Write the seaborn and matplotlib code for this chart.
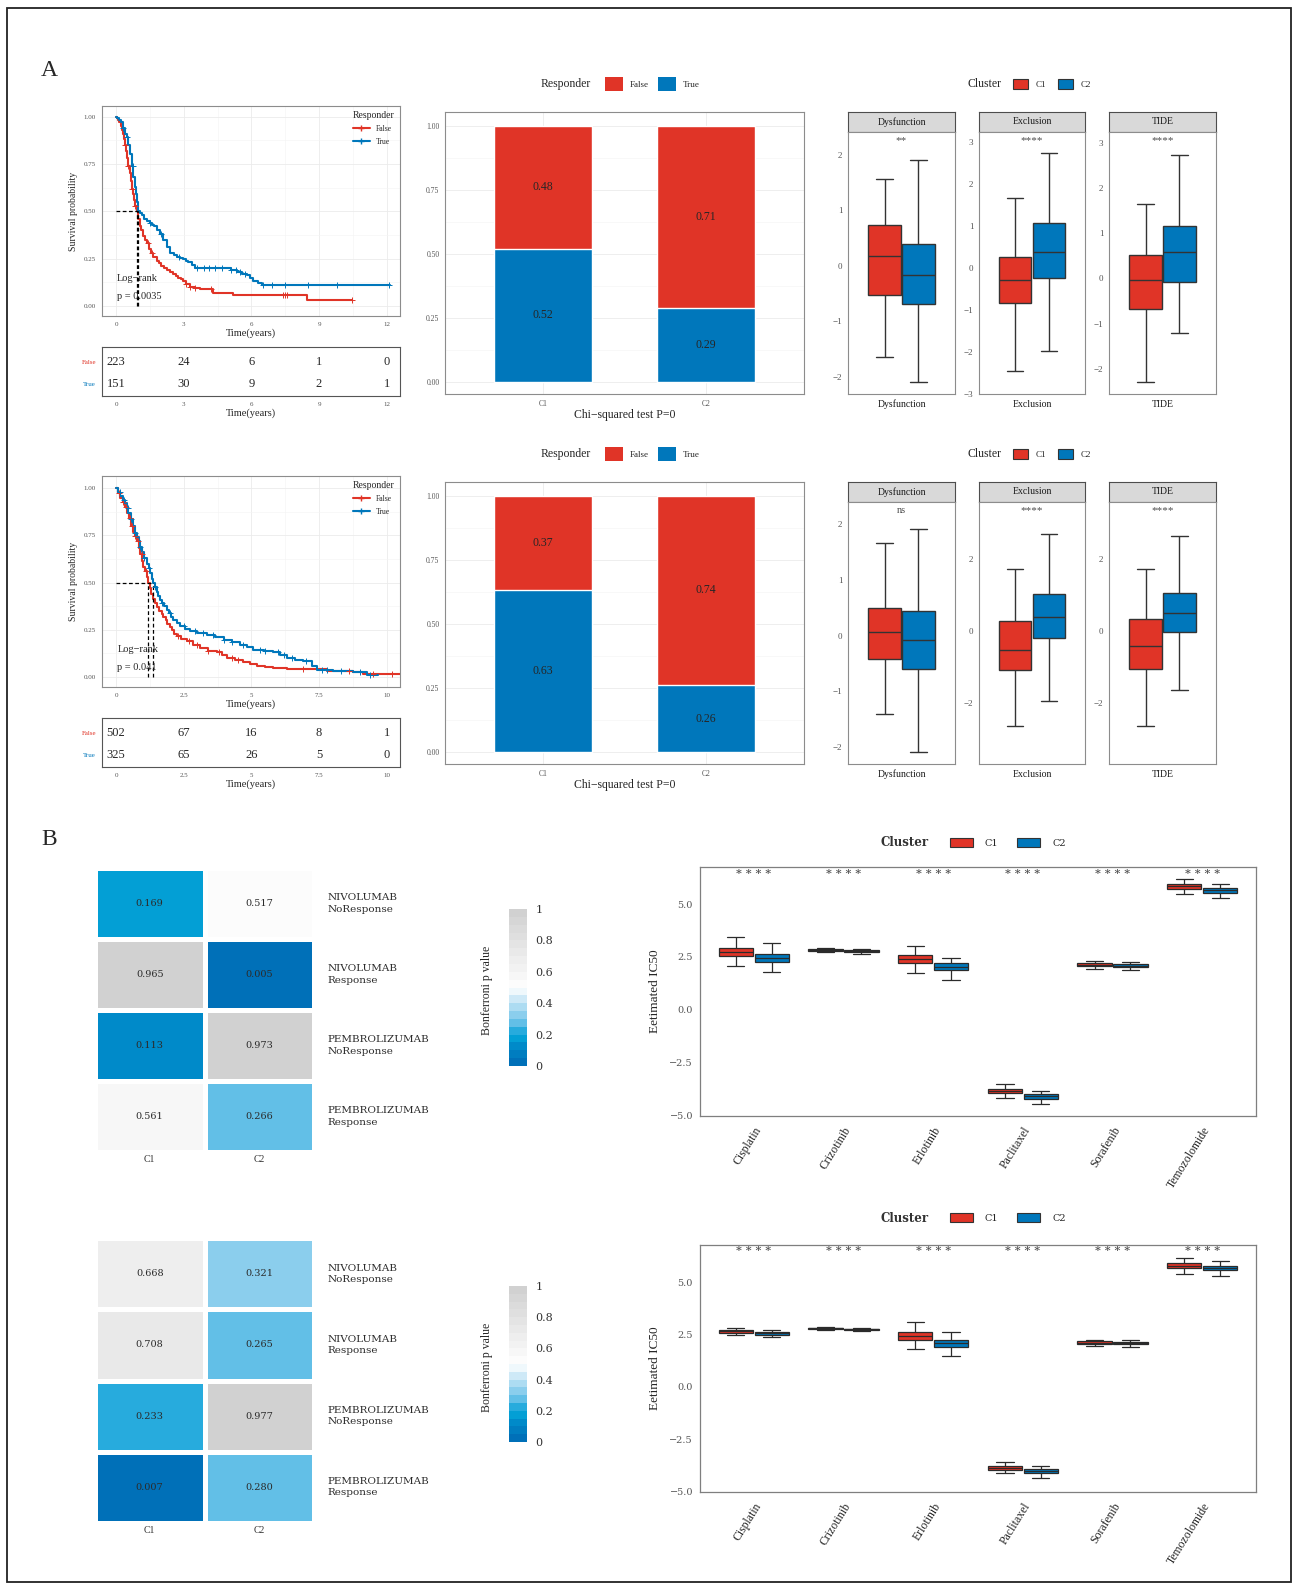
import numpy as np
import pandas as pd
import matplotlib
matplotlib.use("Agg")
import matplotlib.pyplot as plt
import seaborn as sns
from matplotlib.patches import Patch, Rectangle
from matplotlib.lines import Line2D
from matplotlib.colors import LinearSegmentedColormap
from matplotlib.ticker import MultipleLocator

sns.set_style("white")
plt.rcParams['font.family'] = ['Liberation Serif', 'DejaVu Serif']
plt.rcParams['axes.unicode_minus'] = True

RED = "#E03427"
BLUE = "#0077BB"
WIDE = ['DejaVu Serif']
pal_resp = {'False': RED, 'True': BLUE}
pal_clu = {'C1': RED, 'C2': BLUE}

# ---------------- data ----------------
# Kaplan-Meier curves (time in years, survival probability), cohort 1
km1_false_t = [0, 0.05, 0.1, 0.15, 0.2, 0.25, 0.3, 0.35, 0.4, 0.45, 0.5, 0.55, 0.6, 0.65, 0.7, 0.75, 0.8, 0.85,
               0.92, 0.98, 1.06, 1.12, 1.2, 1.28, 1.36, 1.45, 1.55, 1.65, 1.8, 1.9, 2.0, 2.12, 2.25, 2.4, 2.54,
               2.65, 2.75, 2.86, 2.98, 3.1, 3.28, 3.5, 3.72, 4.31, 5.2, 8.45, 10.45]
km1_false_s = [1.0, 0.99, 0.98, 0.97, 0.95, 0.93, 0.91, 0.88, 0.85, 0.82, 0.78, 0.74, 0.70, 0.66, 0.62, 0.59, 0.56,
               0.53, 0.50, 0.46, 0.42, 0.40, 0.37, 0.35, 0.33, 0.30, 0.28, 0.26, 0.24, 0.225, 0.21, 0.20, 0.19,
               0.18, 0.17, 0.16, 0.15, 0.14, 0.13, 0.115, 0.10, 0.095, 0.088, 0.070, 0.058, 0.032, 0.032]
km1_true_t = [0, 0.05, 0.1, 0.15, 0.2, 0.3, 0.4, 0.47, 0.55, 0.62, 0.7, 0.77, 0.83, 0.88, 0.94, 0.99, 1.05, 1.15,
              1.25, 1.36, 1.5, 1.6, 1.7, 1.8, 1.95, 2.1, 2.25, 2.39, 2.55, 2.7, 2.85, 2.98, 3.1, 3.2, 3.35, 3.5,
              4.9, 5.1, 5.35, 5.6, 5.79, 5.95, 6.09, 6.3, 6.46, 12.15]
km1_true_s = [1.0, 0.995, 0.99, 0.98, 0.97, 0.94, 0.91, 0.89, 0.85, 0.80, 0.74, 0.68, 0.63, 0.59, 0.55, 0.50, 0.49,
              0.48, 0.46, 0.45, 0.44, 0.43, 0.42, 0.40, 0.38, 0.35, 0.31, 0.28, 0.27, 0.26, 0.255, 0.25, 0.24, 0.23,
              0.215, 0.20, 0.20, 0.19, 0.18, 0.17, 0.164, 0.15, 0.13, 0.12, 0.11, 0.11]
km1_false_cens = [0.4, 0.55, 0.7, 0.85, 1.4, 1.6, 3.1, 3.3, 3.5, 4.2, 7.4, 7.5, 7.6, 10.45]
km1_true_cens = [0.3, 0.5, 0.75, 1.5, 2.0, 2.8, 3.6, 3.9, 4.1, 4.4, 4.7, 5.1, 5.3, 5.5, 5.7, 6.5, 6.9, 7.5, 8.5, 9.8, 12.1]
km1_risk_times = [0, 3, 6, 9, 12]
km1_risk_false = [223, 24, 6, 1, 0]
km1_risk_true = [151, 30, 9, 2, 1]

# cohort 2
km2_false_t = [0, 0.08, 0.16, 0.24, 0.32, 0.39, 0.47, 0.55, 0.62, 0.69, 0.76, 0.83, 0.9, 0.96, 1.01, 1.07, 1.13,
               1.19, 1.25, 1.3, 1.37, 1.44, 1.52, 1.6, 1.68, 1.75, 1.83, 1.9, 1.98, 2.06, 2.15, 2.24, 2.4, 2.61,
               2.85, 3.1, 3.4, 3.72, 3.9, 4.09, 4.4, 4.7, 4.95, 5.2, 5.5, 5.81, 6.3, 7.78, 8.77, 9.14, 10.49]
km2_false_s = [1.0, 0.975, 0.95, 0.925, 0.90, 0.87, 0.84, 0.80, 0.77, 0.745, 0.72, 0.685, 0.65, 0.615, 0.585, 0.56,
               0.53, 0.50, 0.47, 0.44, 0.415, 0.39, 0.37, 0.35, 0.335, 0.32, 0.30, 0.28, 0.265, 0.25, 0.23, 0.215,
               0.20, 0.19, 0.17, 0.153, 0.14, 0.13, 0.115, 0.10, 0.09, 0.078, 0.07, 0.06, 0.055, 0.048, 0.042,
               0.034, 0.028, 0.018, 0.018]
km2_true_t = [0, 0.08, 0.16, 0.24, 0.32, 0.39, 0.46, 0.55, 0.62, 0.69, 0.76, 0.83, 0.9, 0.97, 1.05, 1.13, 1.2, 1.27,
              1.33, 1.38, 1.44, 1.5, 1.56, 1.63, 1.7, 1.78, 1.87, 1.95, 2.03, 2.12, 2.24, 2.36, 2.55, 2.73, 3.0,
              3.35, 3.65, 3.97, 4.3, 4.58, 4.85, 5.07, 5.45, 5.81, 6.05, 6.3, 6.6, 6.92, 7.23, 7.41, 8.03, 8.77,
              9.26, 9.69]
km2_true_s = [1.0, 0.98, 0.96, 0.94, 0.92, 0.895, 0.87, 0.835, 0.80, 0.765, 0.74, 0.72, 0.69, 0.66, 0.63, 0.60,
              0.575, 0.55, 0.52, 0.50, 0.475, 0.45, 0.43, 0.41, 0.39, 0.375, 0.356, 0.34, 0.32, 0.30, 0.285, 0.27,
              0.255, 0.245, 0.235, 0.22, 0.21, 0.198, 0.185, 0.17, 0.16, 0.145, 0.138, 0.13, 0.115, 0.10, 0.09,
              0.083, 0.056, 0.039, 0.034, 0.028, 0.012, 0.012]
km2_false_cens = [0.1, 0.25, 0.35, 0.5, 0.6, 0.7, 0.8, 0.95, 1.1, 2.3, 2.7, 3.0, 3.4, 3.8, 4.3, 4.5, 6.9, 8.6, 9.5, 10.2]
km2_true_cens = [0.15, 0.3, 0.45, 0.55, 0.7, 0.9, 1.05, 1.2, 1.45, 1.7, 2.0, 2.5, 2.9, 3.2, 3.6, 4.0, 4.3, 4.7,
                 5.3, 5.5, 6.0, 6.2, 6.5, 7.0, 7.6, 7.8, 8.3, 9.0, 9.4]
km2_risk_times = [0, 2.5, 5, 7.5, 10]
km2_risk_false = [502, 67, 16, 8, 1]
km2_risk_true = [325, 65, 26, 5, 0]

# responder proportions per cluster
clusters = ['C1', 'C2']
bar1_true = [0.52, 0.29]
bar1_false = [0.48, 0.71]
bar2_true = [0.63, 0.26]
bar2_false = [0.37, 0.74]

# TIDE scores: [min, Q1, median, Q3, max]
facets = ['Dysfunction', 'Exclusion', 'TIDE']
tide1_c1 = [[-1.65, -0.53, 0.17, 0.73, 1.57], [-2.46, -0.83, -0.28, 0.27, 1.67], [-2.30, -0.67, -0.04, 0.52, 1.65]]
tide1_c2 = [[-2.10, -0.68, -0.17, 0.39, 1.91], [-1.98, -0.24, 0.39, 1.07, 2.74], [-1.20, -0.07, 0.58, 1.15, 2.74]]
tide1_sig = ['**', '****', '****']
tide2_c1 = [[-1.41, -0.42, 0.06, 0.49, 1.65], [-2.64, -1.09, -0.51, 0.29, 1.73], [-2.64, -1.06, -0.42, 0.34, 1.73]]
tide2_c2 = [[-2.09, -0.60, -0.08, 0.43, 1.91], [-1.94, -0.18, 0.40, 1.03, 2.72], [-1.64, -0.03, 0.50, 1.06, 2.66]]
tide2_sig = ['ns', '****', '****']

# immunotherapy response p values
heat_rows = ['NIVOLUMAB\nNoResponse', 'NIVOLUMAB\nResponse', 'PEMBROLIZUMAB\nNoResponse', 'PEMBROLIZUMAB\nResponse']
heat_cols = ['C1', 'C2']
heat1 = [[0.169, 0.517], [0.965, 0.005], [0.113, 0.973], [0.561, 0.266]]
heat2 = [[0.668, 0.321], [0.708, 0.265], [0.233, 0.977], [0.007, 0.280]]

# estimated IC50: [min, Q1, median, Q3, max]
drugs = ['Cisplatin', 'Crizotinib', 'Erlotinib', 'Paclitaxel', 'Sorafenib', 'Temozolomide']
ic50_1_c1 = [[2.06, 2.54, 2.72, 2.90, 3.43], [2.72, 2.77, 2.82, 2.87, 2.93], [1.75, 2.22, 2.41, 2.60, 3.01],
             [-4.16, -3.95, -3.84, -3.75, -3.50], [1.94, 2.05, 2.13, 2.20, 2.30], [5.48, 5.70, 5.83, 5.94, 6.16]]
ic50_1_c2 = [[1.80, 2.27, 2.46, 2.65, 3.17], [2.66, 2.72, 2.77, 2.82, 2.87], [1.43, 1.86, 2.02, 2.19, 2.43],
             [-4.47, -4.22, -4.09, -3.97, -3.84], [1.87, 2.00, 2.08, 2.16, 2.25], [5.29, 5.54, 5.65, 5.76, 5.94]]
ic50_2_c1 = [[2.46, 2.58, 2.66, 2.72, 2.82], [2.74, 2.77, 2.80, 2.83, 2.86], [1.82, 2.26, 2.43, 2.62, 3.10],
             [-4.13, -3.97, -3.87, -3.78, -3.58], [1.94, 2.05, 2.11, 2.18, 2.26], [5.38, 5.66, 5.79, 5.90, 6.18]]
ic50_2_c2 = [[2.38, 2.50, 2.58, 2.62, 2.70], [2.69, 2.72, 2.75, 2.78, 2.82], [1.50, 1.92, 2.08, 2.24, 2.62],
             [-4.35, -4.13, -4.03, -3.94, -3.78], [1.90, 2.03, 2.10, 2.16, 2.24], [5.31, 5.57, 5.68, 5.79, 6.02]]

# ---------------- figure ----------------
W, H = 1297, 1587
fig = plt.figure(figsize=(W / 100, H / 100), dpi=100)


def px_axes(l, t, r, b):
    return fig.add_axes([l / W, 1 - b / H, (r - l) / W, (b - t) / H])


def fx(x):
    return x / W


def fy(y):
    return 1 - y / H


def style_frame(ax, color="#8C8C8C", lw=0.8):
    for s in ax.spines.values():
        s.set_visible(True)
        s.set_color(color)
        s.set_linewidth(lw)


def step_at(ts, ss, c):
    idx = np.searchsorted(np.asarray(ts), c, side='right') - 1
    return np.asarray(ss)[idx]


def km_panel(top, bot, rtop, rbot, t_f, s_f, t_t, s_t, c_f, c_t, xlim, ylim, xticks, xminor,
             risk_times, risk_f, risk_t, ptext):
    ax = px_axes(101.7, top, 400, bot)
    df = pd.concat([pd.DataFrame({'time': t_f, 'surv': s_f, 'Responder': 'False'}),
                    pd.DataFrame({'time': t_t, 'surv': s_t, 'Responder': 'True'})], ignore_index=True)
    sns.lineplot(data=df, x='time', y='surv', hue='Responder', palette=pal_resp, drawstyle='steps-post',
                 estimator=None, sort=False, linewidth=1.5, legend=False, ax=ax)
    for cens, ts, ss, col in [(c_f, t_f, s_f, RED), (c_t, t_t, s_t, BLUE)]:
        cy = [step_at(ts, ss, c) for c in cens]
        sns.scatterplot(x=cens, y=cy, marker='+', color=col, s=22, linewidth=0.7, ax=ax, legend=False, zorder=3)
    # median survival guides
    meds = [np.asarray(ts)[np.argmax(np.asarray(ss) <= 0.5)] for ts, ss in [(t_f, s_f), (t_t, s_t)]]
    ax.plot([0, max(meds)], [0.5, 0.5], ls=(0, (3, 2)), color='black', lw=0.9)
    for m in meds:
        ax.plot([m, m], [0, 0.5], ls=(0, (3, 2)), color='black', lw=0.9)
    ax.text(0.05, 0.146, "Log\u2212rank", fontsize=7.5, va='center', ha='left')
    ax.text(0.05, 0.05, ptext, fontsize=7.5, va='center', ha='left')
    ax.set_xlim(xlim)
    ax.set_ylim(ylim)
    ax.set_xticks(xticks)
    ax.set_xticklabels([f"{v:g}" for v in xticks])
    ax.set_yticks([0, 0.25, 0.5, 0.75, 1.0])
    ax.set_yticklabels(["0.00", "0.25", "0.50", "0.75", "1.00"])
    ax.xaxis.set_minor_locator(MultipleLocator(xminor))
    ax.yaxis.set_minor_locator(MultipleLocator(0.125))
    ax.grid(True, which='major', color='#EBEBEB', lw=0.6)
    ax.grid(True, which='minor', color='#F4F4F4', lw=0.4)
    ax.tick_params(axis='both', which='major', labelsize=5, colors='#555555', length=2, width=0.5, pad=2)
    ax.tick_params(axis='both', which='minor', length=0)
    ax.set_xlabel("Time(years)", fontsize=7.5, labelpad=1)
    ax.set_ylabel("Survival probability", fontsize=7, labelpad=4)
    style_frame(ax)
    handles = [Line2D([0], [0], color=RED, lw=1.5, marker='+', ms=5),
               Line2D([0], [0], color=BLUE, lw=1.5, marker='+', ms=5)]
    leg = ax.legend(handles, ['False', 'True'], title='Responder', loc='upper right', frameon=False,
                    fontsize=5.5, title_fontsize=7, handlelength=2.2, borderaxespad=0.3, labelspacing=0.6)
    leg._legend_box.align = "left"

    rax = px_axes(101.7, rtop, 400, rbot)
    rax.set_xlim(xlim)
    rax.set_ylim(0.48, 2.65)
    for t, a, b in zip(risk_times, risk_f, risk_t):
        rax.text(t, 2, str(a), ha='center', va='center', fontsize=9)
        rax.text(t, 1, str(b), ha='center', va='center', fontsize=9)
    rax.set_yticks([2, 1])
    rax.set_yticklabels(['False', 'True'])
    rax.set_xticks(xticks)
    rax.set_xticklabels([f"{v:g}" for v in xticks])
    rax.tick_params(axis='y', labelsize=5, length=2, width=0.5, pad=2)
    rax.tick_params(axis='x', labelsize=5, colors='#555555', length=2, width=0.5, pad=2)
    for lab, col in zip(rax.get_yticklabels(), [RED, BLUE]):
        lab.set_color(col)
    rax.set_xlabel("Time(years)", fontsize=7.5, labelpad=1)
    rax.grid(False)
    style_frame(rax, "#555555")


km_panel(106, 316, 347, 396, km1_false_t, km1_false_s, km1_true_t, km1_true_s, km1_false_cens, km1_true_cens,
         (-0.635, 12.59), (-0.053, 1.056), [0, 3, 6, 9, 12], 1.5,
         km1_risk_times, km1_risk_false, km1_risk_true, "p = 0.0035")
km_panel(476, 687, 718, 767, km2_false_t, km2_false_s, km2_true_t, km2_true_s, km2_false_cens, km2_true_cens,
         (-0.53, 10.49), (-0.053, 1.065), [0, 2.5, 5, 7.5, 10], 1.25,
         km2_risk_times, km2_risk_false, km2_risk_true, "p = 0.041")


# ---------------- stacked responder bars ----------------
def bar_panel(top, bot, legend_y, true_frac, false_frac):
    ax = px_axes(445, top, 804, bot)
    totals = np.add(true_frac, false_frac)
    sns.barplot(x=clusters, y=totals, color=RED, width=0.6, saturation=1, ax=ax, zorder=2)
    sns.barplot(x=clusters, y=true_frac, color=BLUE, width=0.6, saturation=1, ax=ax, zorder=2)
    for i, (t, f) in enumerate(zip(true_frac, false_frac)):
        ax.text(i, t / 2, f"{t:.2f}", ha='center', va='center', fontsize=8.5, zorder=4)
        ax.text(i, t + f / 2, f"{f:.2f}", ha='center', va='center', fontsize=8.5, zorder=4)
    ax.set_xlim(-0.6, 1.6)
    ax.set_ylim(-0.047, 1.053)
    ax.set_yticks([0, 0.25, 0.5, 0.75, 1.0])
    ax.set_yticklabels(["0.00", "0.25", "0.50", "0.75", "1.00"])
    ax.yaxis.set_minor_locator(MultipleLocator(0.125))
    ax.grid(True, which='major', color='#EBEBEB', lw=0.6, zorder=0)
    ax.grid(True, which='minor', axis='y', color='#F4F4F4', lw=0.4, zorder=0)
    ax.set_axisbelow(True)
    ax.tick_params(axis='both', which='major', labelsize=5.5, colors='#555555', length=2, width=0.5, pad=2)
    ax.tick_params(which='minor', length=0)
    ax.set_xlabel("Chi\u2212squared test P=0", fontsize=8.5, labelpad=1)
    ax.set_ylabel("")
    style_frame(ax)
    fig.text(fx(566), fy(legend_y), "Responder", fontsize=8.5, ha='center', va='center')
    handles = [Patch(facecolor=RED, edgecolor='none'), Patch(facecolor=BLUE, edgecolor='none')]
    fig.legend(handles, ['False', 'True'], loc='center left', bbox_to_anchor=(fx(605), fy(legend_y)),
               bbox_transform=fig.transFigure, ncol=2, frameon=False, fontsize=6.5, handlelength=2.0,
               handleheight=2.0, handletextpad=0.7, columnspacing=1.1, borderpad=0, borderaxespad=0)


bar_panel(112, 394, 84, bar1_true, bar1_false)
bar_panel(482, 764, 454, bar2_true, bar2_false)


# ---------------- TIDE boxplots ----------------
def tide_panel(top_strip, legend_y, c1, c2, sigs, ylims, yticks):
    lefts = [848, 979, 1109]
    rights = [955, 1085, 1216]
    for k, name in enumerate(facets):
        sax = px_axes(lefts[k], top_strip, rights[k], top_strip + 20)
        sax.set_facecolor('#D9D9D9')
        sax.set_xticks([])
        sax.set_yticks([])
        style_frame(sax, '#4D4D4D', 0.8)
        sax.text(0.5, 0.5, name, ha='center', va='center', fontsize=7, color='#1A1A1A', transform=sax.transAxes)

        ax = px_axes(lefts[k], top_strip + 20, rights[k], top_strip + 282)
        df = pd.DataFrame({'facet': name, 'Cluster': ['C1'] * 5 + ['C2'] * 5, 'score': c1[k] + c2[k]})
        sns.boxplot(data=df, x='facet', y='score', hue='Cluster', order=[name], hue_order=['C1', 'C2'],
                    palette=pal_clu, width=0.76, gap=0.04, whis=(0, 100), linecolor='#333333',
                    linewidth=1.0, saturation=1, fliersize=0, legend=False, ax=ax)
        ax.set_xlim(-0.6, 0.6)
        ax.set_ylim(ylims[k])
        ax.set_yticks(yticks[k])
        ax.set_xlabel("")
        ax.set_ylabel("")
        ax.tick_params(axis='y', labelsize=6.5, colors='#555555', length=2, width=0.5, pad=2)
        ax.tick_params(axis='x', labelsize=7, colors='#1A1A1A', length=2, width=0.5, pad=2)
        style_frame(ax, '#8C8C8C')
        ax.text(0.5, 0.985, sigs[k], ha='center', va='top', fontsize=8 if sigs[k] != 'ns' else 7.5,
                color='#4D4D4D', transform=ax.transAxes)
    fig.text(fx(985), fy(legend_y), "Cluster", fontsize=8.5, ha='center', va='center')
    handles = [Patch(facecolor=RED, edgecolor='#333333', lw=0.8), Patch(facecolor=BLUE, edgecolor='#333333', lw=0.8)]
    fig.legend(handles, ['C1', 'C2'], loc='center left', bbox_to_anchor=(fx(1013), fy(legend_y)),
               bbox_transform=fig.transFigure, ncol=2, frameon=False, fontsize=6.5, handlelength=1.7,
               handleheight=1.4, handletextpad=0.8, columnspacing=1.3, borderpad=0, borderaxespad=0)


tide_panel(112, 84, tide1_c1, tide1_c2, tide1_sig,
           [(-2.31, 2.415), (-2.98, 3.25), (-2.56, 3.24)],
           [[-2, -1, 0, 1, 2], [-3, -2, -1, 0, 1, 2, 3], [-2, -1, 0, 1, 2, 3]])
tide_panel(482, 454, tide2_c1, tide2_c2, tide2_sig,
           [(-2.30, 2.39), (-3.70, 3.6), (-3.70, 3.6)],
           [[-2, -1, 0, 1, 2], [-2, 0, 2], [-2, 0, 2]])

# ---------------- p-value heatmaps ----------------
pcmap = LinearSegmentedColormap.from_list(
    "pval",
    [(0.0, '#0070B8'), (0.12, '#008ECB'), (0.17, '#04A4D8'), (0.23, '#38AFE0'), (0.27, '#6BC2E8'),
     (0.32, '#8ECFEE'), (0.45, '#E0F1FA'), (0.5, '#FFFFFF'), (0.56, '#F9F9F9'), (1.0, '#D1D1D1')], N=20)


def heat_panel(top, bot, ctop, cbot, mat):
    ax = px_axes(95, top, 314, bot)
    cax = px_axes(509, ctop, 527, cbot)
    df = pd.DataFrame(mat, index=heat_rows, columns=heat_cols)
    sns.heatmap(df, ax=ax, cmap=pcmap, vmin=0, vmax=1, annot=True, fmt='.3f',
                annot_kws={'fontsize': 7, 'color': '#2B2B2B', 'family': WIDE},
                linewidths=3.5, linecolor='white', cbar_ax=cax,
                cbar_kws={'ticks': [0, 0.2, 0.4, 0.6, 0.8, 1]})
    ax.yaxis.tick_right()
    ax.set_yticklabels(heat_rows, rotation=0, ha='left', va='center', fontsize=7.5, family=WIDE,
                       color='#2B2B2B', linespacing=1.3)
    ax.set_xticklabels(heat_cols, fontsize=7, color='#333333')
    ax.tick_params(axis='y', length=0, pad=10)
    ax.tick_params(axis='x', length=0, pad=2)
    ax.set_xlabel("")
    ax.set_ylabel("")
    cbar = ax.collections[0].colorbar
    cbar.outline.set_visible(False)
    cbar.set_ticklabels(['0', '0.2', '0.4', '0.6', '0.8', '1'])
    cax.tick_params(length=0, labelsize=8, pad=6, colors='#333333')
    for lab in cax.get_yticklabels():
        lab.set_family(WIDE)
    fig.text(fx(487), fy((ctop + cbot) / 2 + 3), "Bonferroni p value", rotation=90,
             ha='center', va='center', fontsize=8.5)


heat_panel(868, 1152, 909, 1066, heat1)
heat_panel(1238, 1523, 1286, 1442, heat2)


# ---------------- IC50 boxplots ----------------
def ic50_panel(top, bot, legend_y, c1, c2, ylim, star_y):
    ax = px_axes(700, top, 1256, bot)
    rows = []
    for d, a, b in zip(drugs, c1, c2):
        rows += [(d, 'C1', v) for v in a] + [(d, 'C2', v) for v in b]
    df = pd.DataFrame(rows, columns=['drug', 'Cluster', 'ic50'])
    sns.boxplot(data=df, x='drug', y='ic50', hue='Cluster', order=drugs, hue_order=['C1', 'C2'],
                palette=pal_clu, width=0.8, gap=0.04, whis=(0, 100), linecolor='#2B2B2B',
                linewidth=0.9, saturation=1, fliersize=0, legend=False, ax=ax)
    for i in range(len(drugs)):
        ax.text(i, star_y, "* * * *", ha='center', va='center', fontsize=8, color='#555555',
                family=WIDE, weight='bold')
    ax.set_xlim(-0.6, 5.6)
    ax.set_ylim(ylim)
    ax.set_yticks([-5, -2.5, 0, 2.5, 5])
    ax.set_yticklabels(["\u22125.0", "\u22122.5", "0.0", "2.5", "5.0"], family=WIDE)
    ax.set_xticks(range(len(drugs)))
    ax.set_xticklabels(drugs, rotation=58, ha='right', rotation_mode='anchor', fontsize=8.5)
    ax.tick_params(axis='y', labelsize=7, colors='#555555', length=3, width=0.6, pad=2)
    ax.tick_params(axis='x', length=3, width=0.6, pad=3)
    ax.set_xlabel("")
    ax.set_ylabel("Eetimated IC50", fontsize=9.5, labelpad=6)
    style_frame(ax, '#7F7F7F', 0.9)
    fig.text(fx(905), fy(legend_y), "Cluster", fontsize=8.5, ha='center', va='center', family=WIDE,
             weight='bold', color='#333333')
    handles = [Patch(facecolor=RED, edgecolor='#333333', lw=0.8), Patch(facecolor=BLUE, edgecolor='#333333', lw=0.8)]
    fig.legend(handles, ['C1', 'C2'], loc='center left', bbox_to_anchor=(fx(950), fy(legend_y)),
               bbox_transform=fig.transFigure, ncol=2, frameon=False, prop={'family': WIDE, 'size': 7},
               handlelength=2.4, handleheight=1.1, handletextpad=1.2, columnspacing=1.9,
               borderpad=0, borderaxespad=0)


ic50_panel(867, 1116, 843, ic50_1_c1, ic50_1_c2, (-5.02, 6.75), 6.43)
ic50_panel(1245, 1492, 1218, ic50_2_c1, ic50_2_c2, (-5.02, 6.78), 6.54)

# ---------------- panel letters and frame ----------------
fig.text(fx(49), fy(71), "A", fontsize=17, ha='center', va='center')
fig.text(fx(49), fy(840), "B", fontsize=17, ha='center', va='center')
fig.add_artist(Rectangle((fx(7), fy(1582)), (1291 - 7) / W, (1582 - 8) / H, transform=fig.transFigure,
                         fill=False, edgecolor='#222222', lw=1.3))

fig.savefig("out.png", dpi=100, facecolor='white')
